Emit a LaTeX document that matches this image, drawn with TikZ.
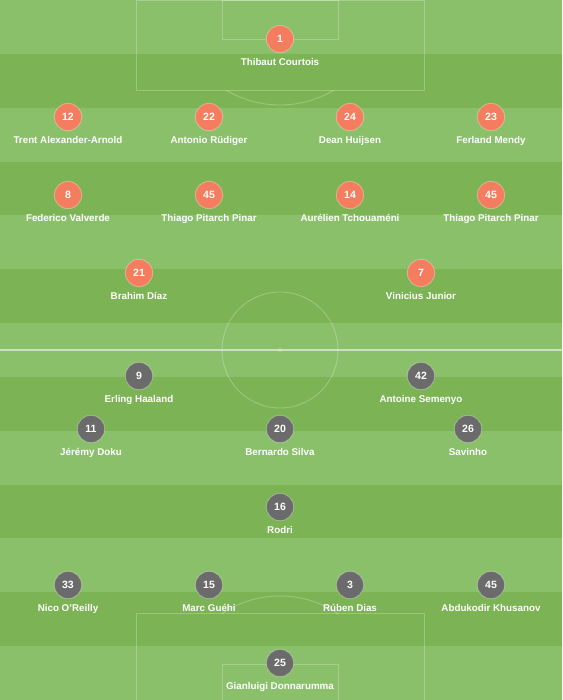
\documentclass[tikz,border=0pt]{standalone}
\usepackage{fontspec}
\setmainfont{Liberation Sans}
\usepackage{tikz}
\usetikzlibrary{calc,positioning}
\definecolor{grasslt}{HTML}{8BC06B}
\definecolor{grassdk}{HTML}{7CB354}
\definecolor{home}{HTML}{F47D5F}
\definecolor{away}{HTML}{6B6B6B}
\tikzset{
  pline/.style={draw=white, draw opacity=0.25, line width=0.7pt},
  halfline/.style={draw=white, draw opacity=0.55, line width=0.9pt},
  shirt/.style={circle, inner sep=0pt, minimum size=20.5pt, draw=white, draw opacity=0.3, line width=0.7pt, text=white, font=\bfseries\fontsize{7.9}{8}\selectfont},
  homeshirt/.style={shirt, fill=home},
  awayshirt/.style={shirt, fill=away},
  plname/.style={text=white, inner sep=0pt, anchor=base, font=\bfseries\fontsize{7.35}{8}\selectfont},
}
\begin{document}
\begin{tikzpicture}[x=0.75pt,y=-0.75pt]
  \useasboundingbox (0,0) rectangle (562,700);
  \foreach \k in {0,...,12}{
    \ifodd\k \def\tone{grassdk}\else\def\tone{grasslt}\fi
    \fill[\tone] (0,{\k*700/13}) rectangle (562,{(\k+1)*700/13});
  }
  \coordinate (C) at (280,350);
  \draw[halfline] (0,350) -- (562,350);
  \draw[pline] (C) circle[radius=58];
  \fill[white, opacity=0.15] (C) circle[radius=2.5];
  \draw[pline] (136,0) rectangle (424,90);
  \draw[pline] (222,0) rectangle (338,39);
  \draw[pline] (136,700) rectangle (424,613);
  \draw[pline] (222,700) rectangle (338,664);
  \begin{scope}
    \clip (0,90) rectangle (562,200);
    \draw[pline] (280,0) circle[radius=105];
  \end{scope}
  \begin{scope}
    \clip (0,500) rectangle (562,613);
    \draw[pline] (280,700) circle[radius=104];
  \end{scope}
  \foreach \num/\x/\y/\who [count=\i] in {
    1/280/39/Thibaut Courtois,
    12/68/117/Trent Alexander-Arnold, 22/209/117/Antonio Rüdiger,
    24/350/117/Dean Huijsen, 23/491/117/Ferland Mendy,
    8/68/195/Federico Valverde, 45/209/195/Thiago Pitarch Pinar,
    14/350/195/Aurélien Tchouaméni, 45/491/195/Thiago Pitarch Pinar,
    21/139/273/Brahim Díaz, 7/421/273/Vinicius Junior}{
    \node[homeshirt] (h\i) at (\x,\y) {\num};
    \node[plname] (hn\i) at ($(h\i)+(0,26)$) {\who};
  }
  \foreach \num/\x/\y/\who [count=\i] in {
    9/139/376/Erling Haaland, 42/421/376/Antoine Semenyo,
    11/91/429/Jérémy Doku, 20/280/429/Bernardo Silva, 26/468/429/Savinho,
    16/280/507/Rodri,
    33/68/585/Nico O'Reilly, 15/209/585/Marc Guéhi,
    3/350/585/Rúben Dias, 45/491/585/Abdukodir Khusanov,
    25/280/663/Gianluigi Donnarumma}{
    \node[awayshirt] (a\i) at (\x,\y) {\num};
    \node[plname] (an\i) at ($(a\i)+(0,26)$) {\who};
  }
\end{tikzpicture}
\end{document}
